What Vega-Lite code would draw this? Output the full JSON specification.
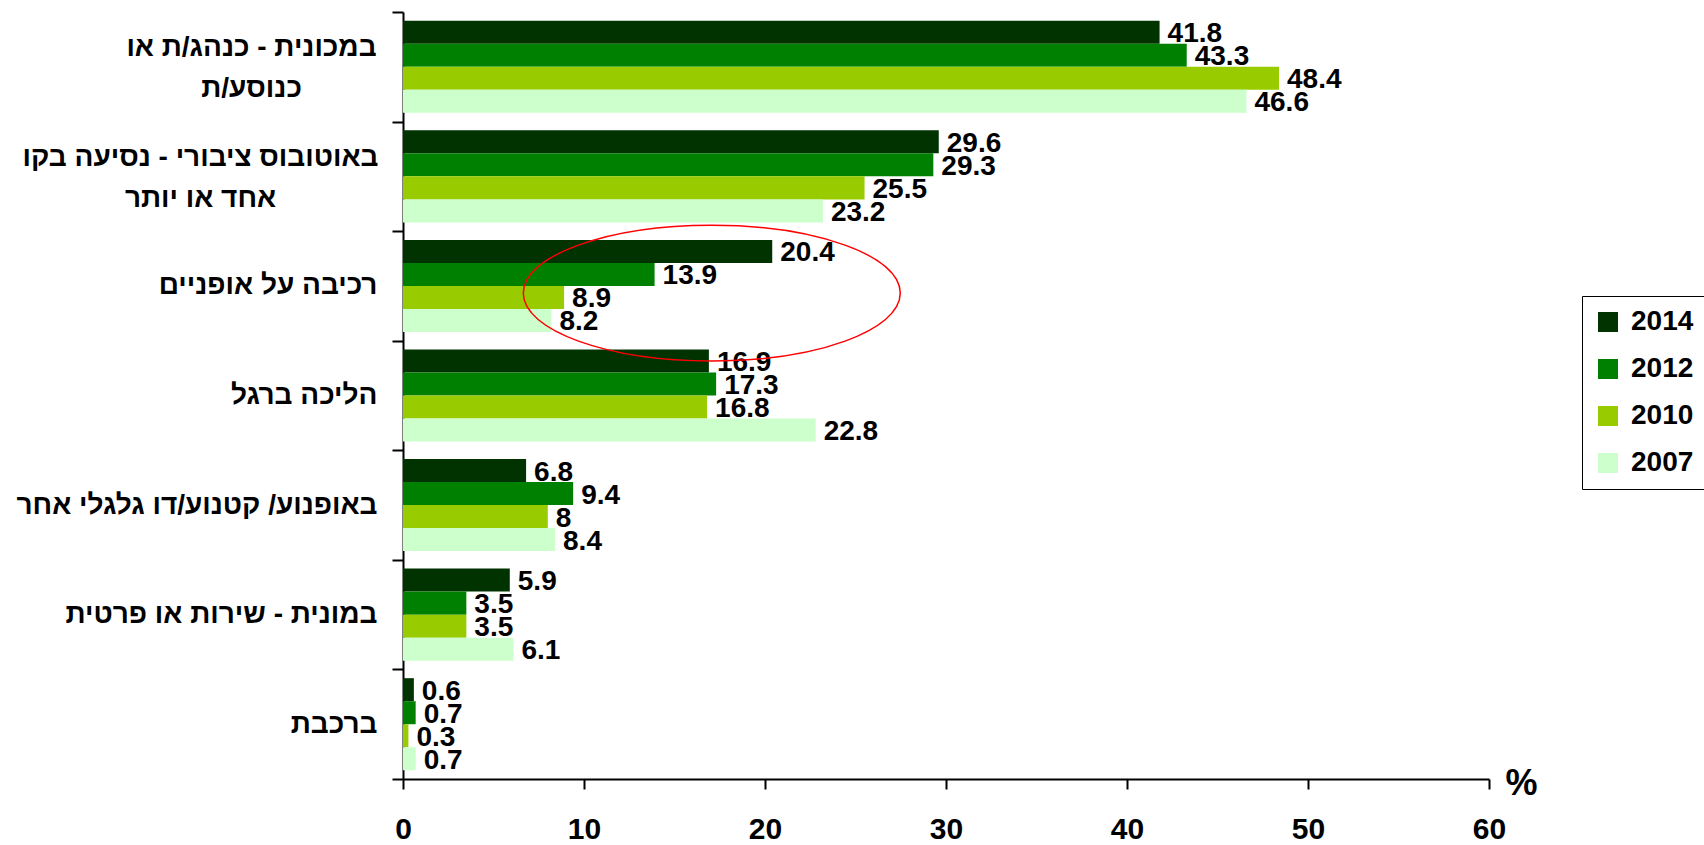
{
  "$schema": "https://vega.github.io/schema/vega-lite/v6.json",
  "width": 1086,
  "height": 767,
  "autosize": {"type": "none"},
  "padding": {"left": 403, "top": 12, "right": 215, "bottom": 66},
  "background": "white",
  "config": {"view": {"stroke": null}, "font": "Liberation Sans"},
  "datasets": {
    "bars": [
      {"mode": "במכונית - כנהג/ת או כנוסע/ת", "year": "2014", "value": 41.8},
      {"mode": "במכונית - כנהג/ת או כנוסע/ת", "year": "2012", "value": 43.3},
      {"mode": "במכונית - כנהג/ת או כנוסע/ת", "year": "2010", "value": 48.4},
      {"mode": "במכונית - כנהג/ת או כנוסע/ת", "year": "2007", "value": 46.6},
      {"mode": "באוטובוס ציבורי - נסיעה בקו אחד או יותר", "year": "2014", "value": 29.6},
      {"mode": "באוטובוס ציבורי - נסיעה בקו אחד או יותר", "year": "2012", "value": 29.3},
      {"mode": "באוטובוס ציבורי - נסיעה בקו אחד או יותר", "year": "2010", "value": 25.5},
      {"mode": "באוטובוס ציבורי - נסיעה בקו אחד או יותר", "year": "2007", "value": 23.2},
      {"mode": "רכיבה על אופניים", "year": "2014", "value": 20.4},
      {"mode": "רכיבה על אופניים", "year": "2012", "value": 13.9},
      {"mode": "רכיבה על אופניים", "year": "2010", "value": 8.9},
      {"mode": "רכיבה על אופניים", "year": "2007", "value": 8.2},
      {"mode": "הליכה ברגל", "year": "2014", "value": 16.9},
      {"mode": "הליכה ברגל", "year": "2012", "value": 17.3},
      {"mode": "הליכה ברגל", "year": "2010", "value": 16.8},
      {"mode": "הליכה ברגל", "year": "2007", "value": 22.8},
      {"mode": "באופנוע/ קטנוע/דו גלגלי אחר", "year": "2014", "value": 6.8},
      {"mode": "באופנוע/ קטנוע/דו גלגלי אחר", "year": "2012", "value": 9.4},
      {"mode": "באופנוע/ קטנוע/דו גלגלי אחר", "year": "2010", "value": 8},
      {"mode": "באופנוע/ קטנוע/דו גלגלי אחר", "year": "2007", "value": 8.4},
      {"mode": "במונית - שירות או פרטית", "year": "2014", "value": 5.9},
      {"mode": "במונית - שירות או פרטית", "year": "2012", "value": 3.5},
      {"mode": "במונית - שירות או פרטית", "year": "2010", "value": 3.5},
      {"mode": "במונית - שירות או פרטית", "year": "2007", "value": 6.1},
      {"mode": "ברכבת", "year": "2014", "value": 0.6},
      {"mode": "ברכבת", "year": "2012", "value": 0.7},
      {"mode": "ברכבת", "year": "2010", "value": 0.3},
      {"mode": "ברכבת", "year": "2007", "value": 0.7}
    ],
    "note": [
      {"mode": "רכיבה על אופניים", "year": "2010", "value": 17.06}
    ]
  },
  "layer": [
    {
      "data": {"name": "bars"},
      "mark": {"type": "bar"},
      "encoding": {
        "y": {
          "field": "mode", "type": "nominal",
          "sort": ["במכונית - כנהג/ת או כנוסע/ת", "באוטובוס ציבורי - נסיעה בקו אחד או יותר", "רכיבה על אופניים", "הליכה ברגל", "באופנוע/ קטנוע/דו גלגלי אחר", "במונית - שירות או פרטית", "ברכבת"],
          "scale": {"paddingInner": 0, "paddingOuter": 0},
          "axis": {
            "title": null,
            "labelExpr": "datum.value == 'במכונית - כנהג/ת או כנוסע/ת' ? ['במכונית - כנהג/ת או', 'כנוסע/ת'] : datum.value == 'באוטובוס ציבורי - נסיעה בקו אחד או יותר' ? ['באוטובוס ציבורי - נסיעה בקו', 'אחד או יותר'] : datum.value",
            "labelFontSize": 28,
            "labelFontWeight": "bold",
            "labelColor": "black",
            "labelAlign": {"condition": {"test": "datum.value == 'במכונית - כנהג/ת או כנוסע/ת' || datum.value == 'באוטובוס ציבורי - נסיעה בקו אחד או יותר'", "value": "center"}, "value": "right"},
            "labelPadding": {"condition": [{"test": "datum.value == 'במכונית - כנהג/ת או כנוסע/ת'", "value": 141}, {"test": "datum.value == 'באוטובוס ציבורי - נסיעה בקו אחד או יותר'", "value": 192}], "value": 15},
            "labelOffset": {"condition": {"test": "datum.value == 'במכונית - כנהג/ת או כנוסע/ת' || datum.value == 'באוטובוס ציבורי - נסיעה בקו אחד או יותר'", "value": -19}, "value": 0},
            "labelBaseline": "middle",
            "labelLineHeight": 41,
            "labelLimit": 0,
            "tickSize": 11,
            "tickWidth": 2,
            "tickColor": "black",
            "domainColor": "black",
            "domainWidth": 2,
            "tickBand": "extent",
            "grid": false
          }
        },
        "yOffset": {
          "field": "year", "type": "nominal",
          "sort": ["2014", "2012", "2010", "2007"],
          "scale": {"paddingInner": 0, "paddingOuter": 0.38}
        },
        "x": {
          "field": "value", "type": "quantitative",
          "scale": {"domain": [0, 60], "nice": false},
          "axis": {
            "title": "%",
            "titleX": 1118,
            "titleY": 4,
            "titleAlign": "center",
            "titleBaseline": "middle",
            "titleAngle": 0,
            "titleFontSize": 36,
            "titleFont": "Liberation Sans",
            "titleFontWeight": "bold",
            "titleColor": "black",
            "values": [0, 10, 20, 30, 40, 50, 60],
            "labelFontSize": 30,
            "labelFont": "Liberation Sans",
            "labelFontWeight": "bold",
            "labelColor": "black",
            "labelBaseline": "middle",
            "labelPadding": 40,
            "labelFlush": false,
            "labelOverlap": false,
            "tickSize": 10,
            "tickWidth": 2,
            "tickColor": "black",
            "domainColor": "black",
            "domainWidth": 2,
            "grid": false
          }
        },
        "color": {
          "field": "year", "type": "nominal",
          "scale": {"domain": ["2014", "2012", "2010", "2007"], "range": ["#003300", "#008000", "#99cc00", "#ccffcc"]},
          "legend": {
            "orient": "none",
            "legendX": 1179,
            "legendY": 284,
            "title": null,
            "strokeColor": "black",
            "fillColor": "white",
            "padding": 12,
            "symbolType": "square",
            "symbolSize": 400,
            "symbolStrokeWidth": 0,
            "symbolOpacity": 1,
            "labelFontSize": 28,
            "labelFontWeight": "bold",
            "labelColor": "black",
            "rowPadding": 19,
            "labelOffset": 9
          }
        }
      }
    },
    {
      "data": {"name": "bars"},
      "mark": {"type": "text", "align": "left", "baseline": "middle", "dx": 8, "dy": 2, "fontSize": 28, "fontWeight": "bold", "color": "black"},
      "encoding": {
        "y": {"field": "mode", "type": "nominal", "sort": ["במכונית - כנהג/ת או כנוסע/ת", "באוטובוס ציבורי - נסיעה בקו אחד או יותר", "רכיבה על אופניים", "הליכה ברגל", "באופנוע/ קטנוע/דו גלגלי אחר", "במונית - שירות או פרטית", "ברכבת"]},
        "yOffset": {"field": "year", "type": "nominal", "sort": ["2014", "2012", "2010", "2007"]},
        "x": {"field": "value", "type": "quantitative"},
        "text": {"field": "value", "type": "quantitative"}
      }
    },
    {
      "data": {"name": "note"},
      "mark": {"type": "point", "shape": "M -1 -0.023 A 1 0.36 0 1 0 1 -0.023 A 1 0.36 0 1 0 -1 -0.023 Z", "size": 142129, "filled": false, "stroke": "#ff0000", "strokeWidth": 1.5, "opacity": 1},
      "encoding": {
        "y": {"field": "mode", "type": "nominal", "sort": ["במכונית - כנהג/ת או כנוסע/ת", "באוטובוס ציבורי - נסיעה בקו אחד או יותר", "רכיבה על אופניים", "הליכה ברגל", "באופנוע/ קטנוע/דו גלגלי אחר", "במונית - שירות או פרטית", "ברכבת"]},
        "yOffset": {"field": "year", "type": "nominal", "sort": ["2014", "2012", "2010", "2007"]},
        "x": {"field": "value", "type": "quantitative"}
      }
    }
  ]
}
